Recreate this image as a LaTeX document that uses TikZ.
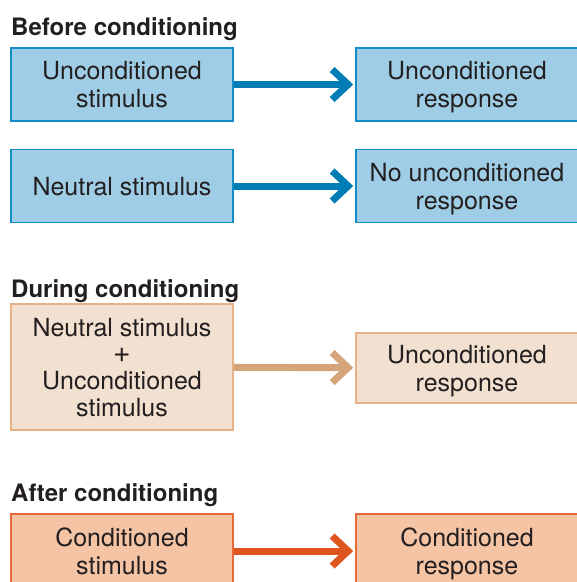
\documentclass[tikz,border=0pt]{standalone}
\usepackage{fontspec}
\setmainfont{TeX Gyre Heros}
\usetikzlibrary{arrows.meta}

\definecolor{inktext}{RGB}{35,31,32}
\definecolor{beforefill}{RGB}{159,205,229}
\definecolor{beforeline}{RGB}{20,140,200}
\definecolor{beforearrow}{RGB}{0,125,180}
\definecolor{duringfill}{RGB}{242,225,208}
\definecolor{duringline}{RGB}{232,178,136}
\definecolor{duringarrow}{RGB}{213,164,120}
\definecolor{afterfill}{RGB}{245,196,165}
\definecolor{afterline}{RGB}{230,105,55}
\definecolor{afterarrow}{RGB}{222,86,30}

\begin{document}
\begin{tikzpicture}[x=1pt, y=-1pt,
  font=\fontsize{25}{28}\selectfont,
  box/.style={draw, line width=1.5pt, minimum width=222pt, minimum height=73pt,
    inner sep=0pt, align=center, text depth=0pt, text=inktext},
  heading/.style={anchor=base west, inner sep=0pt, text=inktext,
    font=\fontsize{24}{28}\selectfont\bfseries},
  link/.style={line width=7pt, shorten >=2pt,
    -{Straight Barb[length=16pt, width=30pt, sharp]}}]

  \useasboundingbox (0,0) rectangle (577,582);

  % Before conditioning: two stimulus/response pairs.
  \node[heading] (hbefore) at (11,35) {Before conditioning};
  \node[box, fill=beforefill, draw=beforeline] (ucs) at (122,84.5)
    {Unconditioned\\stimulus};
  \node[box, fill=beforefill, draw=beforeline] (ucr) at (467,84.5)
    {Unconditioned\\response};
  \node[box, fill=beforefill, draw=beforeline] (ns) at (122,186)
    {Neutral stimulus};
  \node[box, fill=beforefill, draw=beforeline] (nor) at (467,186)
    {No unconditioned\\response};
  \draw[link, beforearrow] (ucs) -- (ucr);
  \draw[link, beforearrow] (ns) -- (nor);

  % During conditioning: the pairing of both stimuli.
  \node[heading] (hduring) at (11,297) {During conditioning};
  \node[box, fill=duringfill, draw=duringline, minimum height=126pt,
    font=\fontsize{25}{26.7}\selectfont] (pair) at (122,367)
    {Neutral stimulus\\{\fontsize{30}{26.7}\selectfont+}\\Unconditioned\\stimulus};
  \node[box, fill=duringfill, draw=duringline, minimum height=70pt] (ucrd) at (467,368)
    {Unconditioned\\response};
  \draw[link, duringarrow] (pair) -- (ucrd);

  % After conditioning: the neutral stimulus has become conditioned.
  \node[heading] (hafter) at (11,501) {After conditioning};
  \node[box, fill=afterfill, draw=afterline, minimum height=74pt] (cs) at (122,551)
    {Conditioned\\stimulus};
  \node[box, fill=afterfill, draw=afterline, minimum height=74pt] (cr) at (467,551)
    {Conditioned\\response};
  \draw[link, afterarrow] (cs) -- (cr);

\end{tikzpicture}
\end{document}
